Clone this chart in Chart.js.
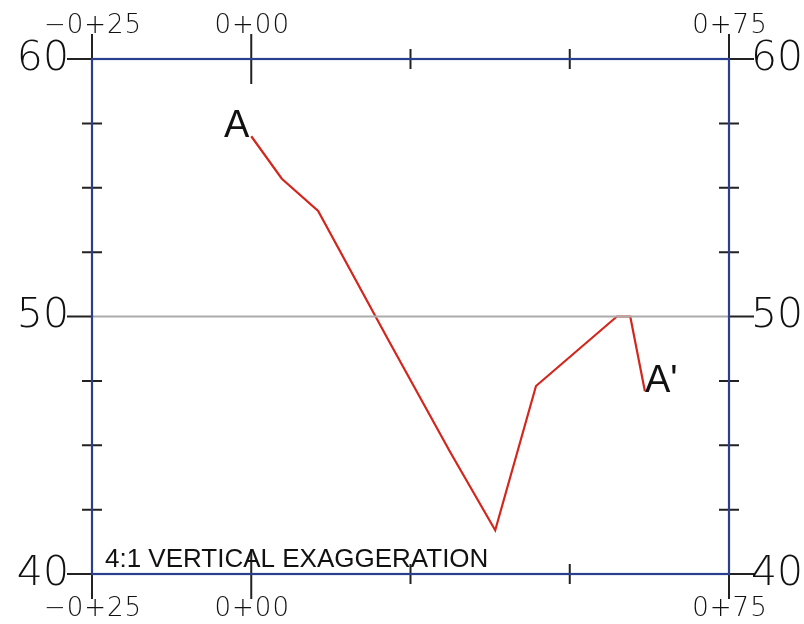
<!DOCTYPE html>
<html>
<head>
<meta charset="utf-8">
<script src="https://cdn.jsdelivr.net/npm/chart.js@4"></script>
<style>
  body { margin: 0; background: #fff; }
  canvas { display: block; }
</style>
</head>
<body>
<canvas id="perfil" width="804" height="624"></canvas>
<script>
// profile A - A' (station in ft, elevation in ft)
const stations = [0, 4.8, 10.5, 21.5, 31.2, 38.3, 44.7, 57.4, 59.5, 61.8];
const elevations = [57.0, 55.35, 54.1, 49.1, 44.75, 41.7, 47.3, 50.0, 50.0, 47.1];

const stationTicks = [-25, 0, 25, 50, 75];
const stationLabels = ["−0+25", "0+00", "", "", "0+75"];
const elevTicks = [60, 57.5, 55, 52.5, 50, 47.5, 45, 42.5, 40];
const elevLabels = ["60", "", "", "", "50", "", "", "", "40"];
const refElevation = 50;
const startLabel = "A";
const endLabel = "A'";
const noteText = "4:1 VERTICAL EXAGGERATION";

const FONT = "'Liberation Sans', Arial, sans-serif";
const THIN = "'DejaVu Sans', sans-serif";

const perfilPlugin = {
  id: "perfil",
  afterDraw(chart) {
    const ctx = chart.ctx;
    const xs = chart.scales.x;
    const ys = chart.scales.y;
    const a = chart.chartArea;
    ctx.save();

    // tick marks
    ctx.strokeStyle = "#222";
    ctx.lineWidth = 2;
    ctx.beginPath();
    stationTicks.forEach((v, i) => {
      const px = xs.getPixelForValue(v);
      const isEnd = i === 0 || i === stationTicks.length - 1;
      const outer = stationLabels[i] ? 25 : 10;
      const inner = stationLabels[i] ? (isEnd ? 0 : 25) : 10;
      ctx.moveTo(px, a.top - outer); ctx.lineTo(px, a.top + inner);
      ctx.moveTo(px, a.bottom + outer); ctx.lineTo(px, a.bottom - inner);
    });
    elevTicks.forEach((v, i) => {
      const py = ys.getPixelForValue(v);
      const outer = elevLabels[i] ? 25 : 10;
      const inner = elevLabels[i] ? 0 : 10;
      ctx.moveTo(a.left - outer, py); ctx.lineTo(a.left + inner, py);
      ctx.moveTo(a.right + outer, py); ctx.lineTo(a.right - inner, py);
    });
    ctx.stroke();

    // frame
    ctx.strokeStyle = "#2b3f8e";
    ctx.lineWidth = 2.2;
    ctx.strokeRect(a.left, a.top, a.right - a.left, a.bottom - a.top);

    // station labels top and bottom
    ctx.fillStyle = "#111";
    ctx.font = "200 26px " + THIN;
    ctx.letterSpacing = "1px";
    ctx.textAlign = "center";
    ctx.textBaseline = "middle";
    stationTicks.forEach((v, i) => {
      if (!stationLabels[i]) return;
      const px = xs.getPixelForValue(v) + 1;
      ctx.fillText(stationLabels[i], px, a.top - 33);
      ctx.fillText(stationLabels[i], px, a.bottom + 35);
    });

    // elevation labels left and right
    ctx.font = "200 41px " + THIN;
    ctx.letterSpacing = "0px";
    elevTicks.forEach((v, i) => {
      if (!elevLabels[i]) return;
      const py = ys.getPixelForValue(v);
      ctx.textAlign = "right";
      ctx.fillText(elevLabels[i], a.left - 23, py);
      ctx.textAlign = "left";
      ctx.fillText(elevLabels[i], a.right + 22, py);
    });

    // end point labels
    ctx.fillStyle = "#111";
    ctx.font = "38px " + FONT;
    ctx.textBaseline = "alphabetic";
    const n = stations.length - 1;
    ctx.textAlign = "right";
    ctx.fillText(startLabel, xs.getPixelForValue(stations[0]) - 2, ys.getPixelForValue(elevations[0]) + 1);
    ctx.textAlign = "left";
    ctx.fillText(endLabel, xs.getPixelForValue(stations[n]), ys.getPixelForValue(elevations[n]) + 1);

    // note
    ctx.font = "26px " + FONT;
    ctx.fillText(noteText, a.left + 13, a.bottom - 7);
    ctx.restore();
  }
};

const xMin = stationTicks[0];
const xMax = stationTicks[stationTicks.length - 1];

new Chart(document.getElementById("perfil"), {
  type: "line",
  data: {
    datasets: [
      {
        data: [{ x: xMin, y: refElevation }, { x: xMax, y: refElevation }],
        borderColor: "#ababab",
        borderWidth: 2,
        pointRadius: 0
      },
      {
        data: stations.map((s, i) => ({ x: s, y: elevations[i] })),
        borderColor: "#d3261d",
        borderWidth: 2.2,
        pointRadius: 0
      }
    ]
  },
  options: {
    responsive: false,
    animation: false,
    layout: { padding: { left: 92, top: 59, right: 75, bottom: 50 } },
    plugins: { legend: { display: false }, tooltip: { enabled: false } },
    scales: {
      x: { type: "linear", min: xMin, max: xMax, display: false },
      y: { type: "linear", min: elevTicks[elevTicks.length - 1], max: elevTicks[0], display: false }
    }
  },
  plugins: [perfilPlugin]
});
</script>
</body>
</html>
